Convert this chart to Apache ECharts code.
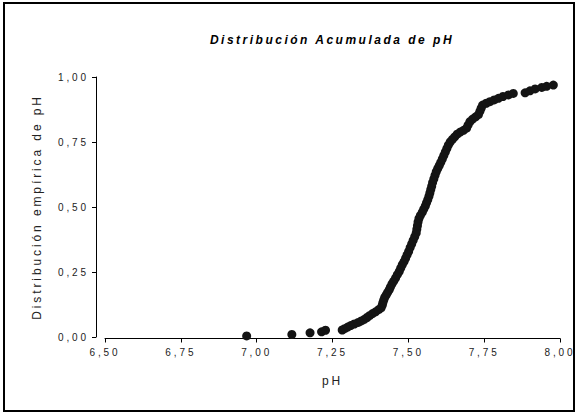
<!DOCTYPE html>
<html>
<head>
<meta charset="utf-8">
<script src="https://cdn.jsdelivr.net/npm/echarts@6/dist/echarts.min.js"></script>
<style>
  html, body { margin: 0; padding: 0; background: #fff; }
  #chart { width: 577px; height: 413px; }
  svg text { letter-spacing: 2.9px; }
  svg text[style*="italic"] { letter-spacing: 2.5px; }
</style>
</head>
<body>
<div id="chart"></div>
<script>
var phValues = [
  6.967, 7.116, 7.176, 7.214, 7.227, 7.282, 7.290, 7.300, 7.310, 7.322,
  7.335, 7.345, 7.355, 7.364, 7.372, 7.382, 7.392, 7.402, 7.410, 7.414,
  7.416, 7.419, 7.422, 7.427, 7.432, 7.437, 7.441, 7.446, 7.452, 7.458,
  7.464, 7.470, 7.475, 7.480, 7.486, 7.491, 7.496, 7.501, 7.506, 7.511,
  7.516, 7.521, 7.526, 7.528, 7.530, 7.532, 7.535, 7.540, 7.546, 7.551,
  7.556, 7.560, 7.564, 7.568, 7.571, 7.574, 7.577, 7.580, 7.584, 7.588,
  7.592, 7.597, 7.602, 7.607, 7.612, 7.617, 7.622, 7.627, 7.632, 7.638,
  7.645, 7.653, 7.661, 7.671, 7.682, 7.692, 7.697, 7.703, 7.712, 7.722,
  7.731, 7.736, 7.740, 7.745, 7.757, 7.769, 7.783, 7.797, 7.812, 7.830,
  7.846, 7.885, 7.901, 7.918, 7.940, 7.956, 7.978
];
var cdfValues = [
  0.004, 0.010, 0.016, 0.020, 0.026, 0.027, 0.032, 0.038, 0.044, 0.050,
  0.056, 0.062, 0.068, 0.075, 0.082, 0.090, 0.097, 0.105, 0.112, 0.122,
  0.132, 0.142, 0.152, 0.162, 0.172, 0.182, 0.192, 0.204, 0.215, 0.227,
  0.240, 0.252, 0.265, 0.278, 0.290, 0.303, 0.316, 0.329, 0.344, 0.358,
  0.372, 0.386, 0.400, 0.414, 0.428, 0.442, 0.456, 0.468, 0.480, 0.492,
  0.504, 0.516, 0.528, 0.541, 0.554, 0.567, 0.580, 0.594, 0.608, 0.622,
  0.636, 0.648, 0.660, 0.672, 0.685, 0.698, 0.712, 0.725, 0.738, 0.750,
  0.760, 0.770, 0.780, 0.788, 0.795, 0.803, 0.815, 0.828, 0.838, 0.847,
  0.855, 0.868, 0.880, 0.892, 0.899, 0.905, 0.912, 0.918, 0.925, 0.931,
  0.937, 0.939, 0.947, 0.954, 0.960, 0.964, 0.969
];
var xTickValues = [6.50, 6.75, 7.00, 7.25, 7.50, 7.75, 8.00];
var xTickLabels = ['6,50', '6,75', '7,00', '7,25', '7,50', '7,75', '8,00'];
var yTickValues = [0.00, 0.25, 0.50, 0.75, 1.00];
var yTickLabels = ['0,00', '0,25', '0,50', '0,75', '1,00'];

var titleText = 'Distribución Acumulada de pH';
var xName = 'pH';
var yName = 'Distribución empírica de pH';

function lookup(vals, labels, v) {
  for (var i = 0; i < vals.length; i++) {
    if (Math.abs(vals[i] - v) < 1e-6) return labels[i];
  }
  return '';
}

var points = phValues.map(function (x, i) { return [x, cdfValues[i]]; });

var FONT = "'Liberation Sans', Arial, sans-serif";
var chart = echarts.init(document.getElementById('chart'), null, { renderer: 'svg' });
chart.setOption({
  animation: false,
  backgroundColor: '#ffffff',
  title: {
    text: titleText,
    left: 327,
    top: 29,
    textAlign: 'center',
    textStyle: { fontFamily: FONT, fontSize: 12, fontWeight: 'bold', fontStyle: 'italic', color: '#000' }
  },
  graphic: [{
    type: 'rect',
    shape: { x: 4, y: 3, width: 570, height: 408 },
    style: { fill: 'none', stroke: '#000', lineWidth: 2 },
    silent: true
  }],
  grid: { left: 105, right: 17, top: 77, bottom: 76 },
  xAxis: {
    type: 'value',
    min: 6.5, max: 8.0, interval: 0.25,
    offset: 1.5,
    name: xName,
    nameLocation: 'middle',
    nameGap: 36,
    nameTextStyle: { fontFamily: FONT, fontSize: 12, color: '#222' },
    axisLine: { onZero: false, lineStyle: { color: '#000', width: 1 } },
    axisTick: { show: true, length: 4, inside: false, lineStyle: { color: '#000' } },
    splitLine: { show: false },
    axisLabel: {
      margin: 9,
      fontFamily: FONT, fontSize: 10, color: '#222',
      formatter: function (v) { return lookup(xTickValues, xTickLabels, v); }
    }
  },
  yAxis: {
    type: 'value',
    min: 0, max: 1, interval: 0.25,
    offset: 9,
    name: yName,
    nameLocation: 'middle',
    nameGap: 53,
    nameTextStyle: { fontFamily: FONT, fontSize: 12, color: '#222' },
    axisLine: { show: true, onZero: false, lineStyle: { color: '#000', width: 1 } },
    axisTick: { show: true, length: 4, inside: false, lineStyle: { color: '#000' } },
    splitLine: { show: false },
    axisLabel: {
      margin: 7,
      fontFamily: FONT, fontSize: 10, color: '#222',
      formatter: function (v) { return lookup(yTickValues, yTickLabels, v); }
    }
  },
  series: [{
    type: 'scatter',
    data: points,
    symbol: 'circle',
    symbolSize: 9,
    itemStyle: { color: '#141414', opacity: 1 }
  }]
});
</script>
</body>
</html>
